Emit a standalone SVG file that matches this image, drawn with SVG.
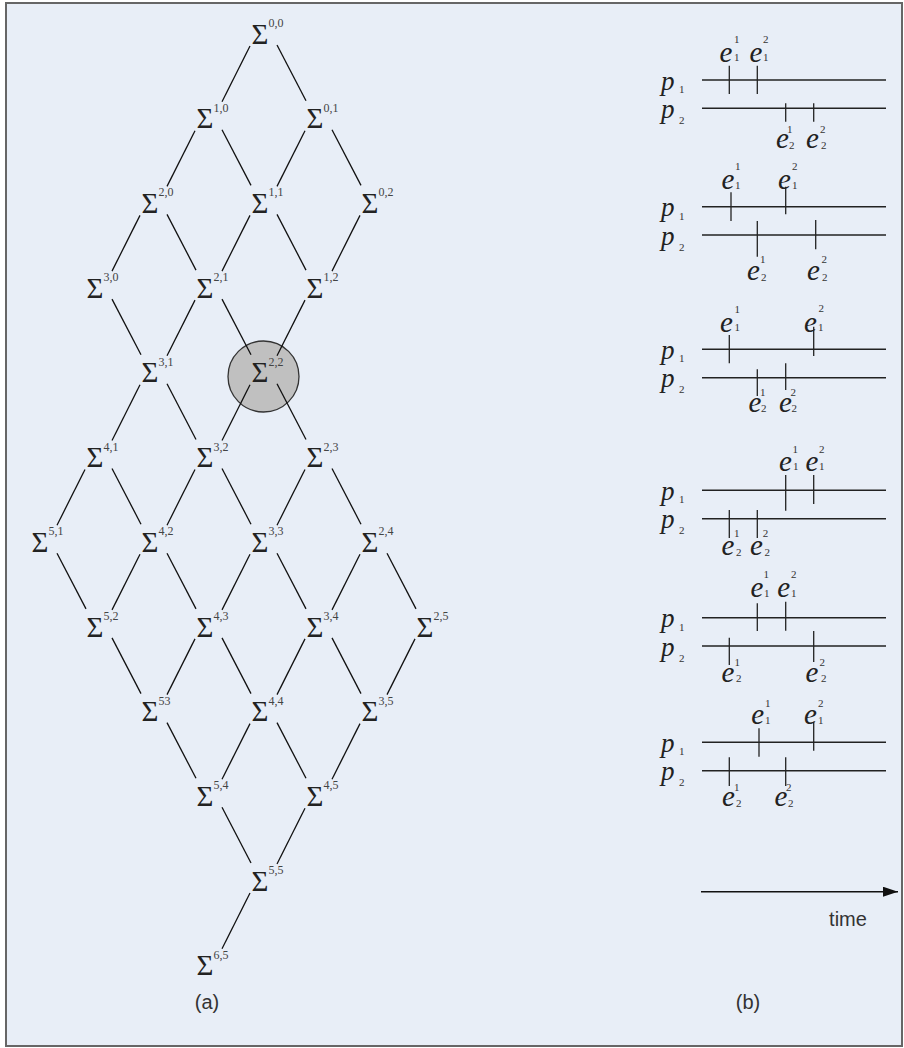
<svg xmlns="http://www.w3.org/2000/svg" width="904" height="1048" viewBox="0 0 904 1048">
<defs>
<style>
.s{font-family:"Liberation Serif","Times New Roman",serif;font-size:29px;fill:#222;text-anchor:middle}
.sp{font-family:"Liberation Serif","Times New Roman",serif;font-size:12px;fill:#444}
.ed line{stroke:#111;stroke-width:1.3}
.tl{stroke:#222;stroke-width:1.5}
.tk{stroke:#222;stroke-width:1.3}
.it{font-family:"Liberation Serif","Times New Roman",serif;font-style:italic;font-size:27px;fill:#222}
.ie{font-family:"Liberation Serif","Times New Roman",serif;font-style:italic;font-size:29px;fill:#222}
.d{font-family:"Liberation Serif","Times New Roman",serif;font-size:11px;fill:#333}
.lab{font-family:"Liberation Sans",Arial,sans-serif;font-size:20px;fill:#333}
</style>
<marker id="ah" markerWidth="16" markerHeight="10" refX="15" refY="5" orient="auto" markerUnits="userSpaceOnUse">
<path d="M0,0 L15,5 L0,10 Z" fill="#111"/>
</marker>
</defs>
<rect x="6" y="3" width="896" height="1043" fill="#E8EEF7" stroke="#666" stroke-width="2"/>

<circle id="hl" cx="263.5" cy="376.5" r="35.5" fill="#C0C0C0" stroke="#333" stroke-width="1.3"/>

<g id="edges" class="ed">
<line x1="250" y1="46" x2="222" y2="101.7"/>
<line x1="195" y1="130.7" x2="167" y2="186.4"/>
<line x1="305" y1="130.7" x2="277" y2="186.4"/>
<line x1="140" y1="215.4" x2="112" y2="271.1"/>
<line x1="250" y1="215.4" x2="222" y2="271.1"/>
<line x1="360" y1="215.4" x2="332" y2="271.1"/>
<line x1="195" y1="300.1" x2="167" y2="355.8"/>
<line x1="305" y1="300.1" x2="277" y2="355.8"/>
<line x1="140" y1="384.8" x2="112" y2="440.5"/>
<line x1="250" y1="384.8" x2="222" y2="440.5"/>
<line x1="85" y1="469.5" x2="57" y2="525.2"/>
<line x1="195" y1="469.5" x2="167" y2="525.2"/>
<line x1="305" y1="469.5" x2="277" y2="525.2"/>
<line x1="140" y1="554.2" x2="112" y2="609.9"/>
<line x1="250" y1="554.2" x2="222" y2="609.9"/>
<line x1="360" y1="554.2" x2="332" y2="609.9"/>
<line x1="195" y1="638.9" x2="167" y2="694.6"/>
<line x1="305" y1="638.9" x2="277" y2="694.6"/>
<line x1="415" y1="638.9" x2="387" y2="694.6"/>
<line x1="250" y1="723.6" x2="222" y2="779.3"/>
<line x1="360" y1="723.6" x2="332" y2="779.3"/>
<line x1="305" y1="808.3" x2="277" y2="864"/>
<line x1="250" y1="893" x2="222" y2="948.7"/>
<line x1="277" y1="45" x2="306" y2="100.7"/>
<line x1="222" y1="129.7" x2="251" y2="185.4"/>
<line x1="332" y1="129.7" x2="361" y2="185.4"/>
<line x1="167" y1="214.4" x2="196" y2="270.1"/>
<line x1="277" y1="214.4" x2="306" y2="270.1"/>
<line x1="112" y1="299.1" x2="141" y2="354.8"/>
<line x1="222" y1="299.1" x2="251" y2="354.8"/>
<line x1="167" y1="383.8" x2="196" y2="439.5"/>
<line x1="277" y1="383.8" x2="306" y2="439.5"/>
<line x1="112" y1="468.5" x2="141" y2="524.2"/>
<line x1="222" y1="468.5" x2="251" y2="524.2"/>
<line x1="332" y1="468.5" x2="361" y2="524.2"/>
<line x1="57" y1="553.2" x2="86" y2="608.9"/>
<line x1="167" y1="553.2" x2="196" y2="608.9"/>
<line x1="277" y1="553.2" x2="306" y2="608.9"/>
<line x1="387" y1="553.2" x2="416" y2="608.9"/>
<line x1="112" y1="637.9" x2="141" y2="693.6"/>
<line x1="222" y1="637.9" x2="251" y2="693.6"/>
<line x1="332" y1="637.9" x2="361" y2="693.6"/>
<line x1="167" y1="722.6" x2="196" y2="778.3"/>
<line x1="277" y1="722.6" x2="306" y2="778.3"/>
<line x1="222" y1="807.3" x2="251" y2="863"/>
</g>

<g id="n00"><text class="s" x="260" y="43.6">Σ</text><text class="sp" x="268.5" y="27">0,0</text></g>
<g id="n10"><text class="s" x="205" y="128.3">Σ</text><text class="sp" x="213.5" y="111.7">1,0</text></g>
<g id="n01"><text class="s" x="315" y="128.3">Σ</text><text class="sp" x="323.5" y="111.7">0,1</text></g>
<g id="n20"><text class="s" x="150" y="213">Σ</text><text class="sp" x="158.5" y="196.4">2,0</text></g>
<g id="n11"><text class="s" x="260" y="213">Σ</text><text class="sp" x="268.5" y="196.4">1,1</text></g>
<g id="n02"><text class="s" x="370" y="213">Σ</text><text class="sp" x="378.5" y="196.4">0,2</text></g>
<g id="n30"><text class="s" x="95" y="297.7">Σ</text><text class="sp" x="103.5" y="281.1">3,0</text></g>
<g id="n21"><text class="s" x="205" y="297.7">Σ</text><text class="sp" x="213.5" y="281.1">2,1</text></g>
<g id="n12"><text class="s" x="315" y="297.7">Σ</text><text class="sp" x="323.5" y="281.1">1,2</text></g>
<g id="n31"><text class="s" x="150" y="382.4">Σ</text><text class="sp" x="158.5" y="365.8">3,1</text></g>
<g id="n22"><text class="s" x="260" y="382.4">Σ</text><text class="sp" x="268.5" y="365.8">2,2</text></g>
<g id="n41"><text class="s" x="95" y="467.1">Σ</text><text class="sp" x="103.5" y="450.5">4,1</text></g>
<g id="n32"><text class="s" x="205" y="467.1">Σ</text><text class="sp" x="213.5" y="450.5">3,2</text></g>
<g id="n23"><text class="s" x="315" y="467.1">Σ</text><text class="sp" x="323.5" y="450.5">2,3</text></g>
<g id="n51"><text class="s" x="40" y="551.8">Σ</text><text class="sp" x="48.5" y="535.2">5,1</text></g>
<g id="n42"><text class="s" x="150" y="551.8">Σ</text><text class="sp" x="158.5" y="535.2">4,2</text></g>
<g id="n33"><text class="s" x="260" y="551.8">Σ</text><text class="sp" x="268.5" y="535.2">3,3</text></g>
<g id="n24"><text class="s" x="370" y="551.8">Σ</text><text class="sp" x="378.5" y="535.2">2,4</text></g>
<g id="n52"><text class="s" x="95" y="636.5">Σ</text><text class="sp" x="103.5" y="619.9">5,2</text></g>
<g id="n43"><text class="s" x="205" y="636.5">Σ</text><text class="sp" x="213.5" y="619.9">4,3</text></g>
<g id="n34"><text class="s" x="315" y="636.5">Σ</text><text class="sp" x="323.5" y="619.9">3,4</text></g>
<g id="n25"><text class="s" x="425" y="636.5">Σ</text><text class="sp" x="433.5" y="619.9">2,5</text></g>
<g id="n53"><text class="s" x="150" y="721.2">Σ</text><text class="sp" x="158.5" y="704.6">53</text></g>
<g id="n44"><text class="s" x="260" y="721.2">Σ</text><text class="sp" x="268.5" y="704.6">4,4</text></g>
<g id="n35"><text class="s" x="370" y="721.2">Σ</text><text class="sp" x="378.5" y="704.6">3,5</text></g>
<g id="n54"><text class="s" x="205" y="805.9">Σ</text><text class="sp" x="213.5" y="789.3">5,4</text></g>
<g id="n45"><text class="s" x="315" y="805.9">Σ</text><text class="sp" x="323.5" y="789.3">4,5</text></g>
<g id="n55"><text class="s" x="260" y="890.6">Σ</text><text class="sp" x="268.5" y="874">5,5</text></g>
<g id="n65"><text class="s" x="205" y="975.3">Σ</text><text class="sp" x="213.5" y="958.7">6,5</text></g>

<text class="lab" x="207" y="1009" text-anchor="middle">(a)</text>

<g id="t1">
<line class="tl" x1="702" y1="80" x2="886" y2="80"/>
<line class="tl" x1="702" y1="108.3" x2="886" y2="108.3"/>
<line class="tk" x1="729.3" y1="65.7" x2="729.3" y2="94"/>
<line class="tk" x1="757.3" y1="65.7" x2="757.3" y2="94"/>
<line class="tk" x1="785.7" y1="103.3" x2="785.7" y2="121.7"/>
<line class="tk" x1="813.7" y1="103.3" x2="813.7" y2="121.7"/>
<text class="it" x="661" y="89.5">p</text><text class="d" x="679" y="93">1</text>
<text class="it" x="661" y="117.8">p</text><text class="d" x="679" y="124">2</text>
<text class="ie" x="719.5" y="61.5">e</text><text class="d" x="734" y="43">1</text><text class="d" x="734" y="61">1</text>
<text class="ie" x="749.5" y="61.5">e</text><text class="d" x="763" y="43">2</text><text class="d" x="763" y="61">1</text>
<text class="ie" x="776" y="148">e</text><text class="d" x="787" y="133">1</text><text class="d" x="789" y="148.5">2</text>
<text class="ie" x="806" y="148">e</text><text class="d" x="820" y="133">2</text><text class="d" x="821" y="148.5">2</text>
</g>

<g id="t2">
<line class="tl" x1="702" y1="206.7" x2="886" y2="206.7"/>
<line class="tl" x1="702" y1="235" x2="886" y2="235"/>
<line class="tk" x1="731" y1="192.3" x2="731" y2="221"/>
<line class="tk" x1="785.7" y1="186.7" x2="785.7" y2="214.3"/>
<line class="tk" x1="757.3" y1="221" x2="757.3" y2="256.7"/>
<line class="tk" x1="815.7" y1="220" x2="815.7" y2="249.3"/>
<text class="it" x="661" y="216.2">p</text><text class="d" x="679" y="219.7">1</text>
<text class="it" x="661" y="244.5">p</text><text class="d" x="679" y="250.7">2</text>
<text class="ie" x="721.5" y="189.3">e</text><text class="d" x="735" y="170">1</text><text class="d" x="735" y="189">1</text>
<text class="ie" x="778" y="189.3">e</text><text class="d" x="792" y="170">2</text><text class="d" x="792" y="189">1</text>
<text class="ie" x="747" y="280">e</text><text class="d" x="760" y="263">1</text><text class="d" x="761" y="280.5">2</text>
<text class="ie" x="807" y="280">e</text><text class="d" x="821.5" y="263">2</text><text class="d" x="822" y="280.5">2</text>
</g>

<g id="t3">
<line class="tl" x1="702" y1="349.3" x2="886" y2="349.3"/>
<line class="tl" x1="702" y1="377.7" x2="886" y2="377.7"/>
<line class="tk" x1="729.3" y1="335" x2="729.3" y2="363.3"/>
<line class="tk" x1="813.7" y1="326.7" x2="813.7" y2="356"/>
<line class="tk" x1="757.3" y1="369.3" x2="757.3" y2="396"/>
<line class="tk" x1="785.7" y1="363.3" x2="785.7" y2="390"/>
<text class="it" x="661" y="358.8">p</text><text class="d" x="679" y="362.3">1</text>
<text class="it" x="661" y="387.2">p</text><text class="d" x="679" y="393.4">2</text>
<text class="ie" x="720" y="331.7">e</text><text class="d" x="734.5" y="312.7">1</text><text class="d" x="734.5" y="331">1</text>
<text class="ie" x="804" y="331.7">e</text><text class="d" x="818.5" y="311.5">2</text><text class="d" x="818" y="331">1</text>
<text class="ie" x="748.5" y="411.5">e</text><text class="d" x="760" y="396">1</text><text class="d" x="761" y="412">2</text>
<text class="ie" x="779" y="411.5">e</text><text class="d" x="790.5" y="396">2</text><text class="d" x="791.5" y="412">2</text>
</g>

<g id="t4">
<line class="tl" x1="702" y1="490.3" x2="886" y2="490.3"/>
<line class="tl" x1="702" y1="518.7" x2="886" y2="518.7"/>
<line class="tk" x1="785.7" y1="475" x2="785.7" y2="510.7"/>
<line class="tk" x1="813.7" y1="475" x2="813.7" y2="504"/>
<line class="tk" x1="729.3" y1="510" x2="729.3" y2="538"/>
<line class="tk" x1="757.3" y1="510" x2="757.3" y2="538"/>
<text class="it" x="661" y="499.8">p</text><text class="d" x="679" y="503.3">1</text>
<text class="it" x="661" y="528.2">p</text><text class="d" x="679" y="534.4">2</text>
<text class="ie" x="779" y="470.5">e</text><text class="d" x="792.5" y="453.3">1</text><text class="d" x="793" y="470">1</text>
<text class="ie" x="805.5" y="470.5">e</text><text class="d" x="819" y="453.3">2</text><text class="d" x="819" y="470">1</text>
<text class="ie" x="721.5" y="555">e</text><text class="d" x="734" y="536.7">1</text><text class="d" x="736" y="555.5">2</text>
<text class="ie" x="750" y="555">e</text><text class="d" x="762.7" y="536.7">2</text><text class="d" x="764.5" y="555.5">2</text>
</g>

<g id="t5">
<line class="tl" x1="702" y1="617.7" x2="886" y2="617.7"/>
<line class="tl" x1="702" y1="646" x2="886" y2="646"/>
<line class="tk" x1="757.3" y1="603.3" x2="757.3" y2="631"/>
<line class="tk" x1="785.7" y1="601.7" x2="785.7" y2="630.7"/>
<line class="tk" x1="729.3" y1="637.7" x2="729.3" y2="665"/>
<line class="tk" x1="813.7" y1="631" x2="813.7" y2="662"/>
<text class="it" x="661" y="627.2">p</text><text class="d" x="679" y="630.7">1</text>
<text class="it" x="661" y="655.5">p</text><text class="d" x="679" y="661.7">2</text>
<text class="ie" x="750.5" y="597">e</text><text class="d" x="763.5" y="578.3">1</text><text class="d" x="764" y="597">1</text>
<text class="ie" x="777.3" y="597">e</text><text class="d" x="791" y="578.3">2</text><text class="d" x="791" y="597">1</text>
<text class="ie" x="721.5" y="681.5">e</text><text class="d" x="734.5" y="666">1</text><text class="d" x="736" y="682">2</text>
<text class="ie" x="805.5" y="681.5">e</text><text class="d" x="819.5" y="666">2</text><text class="d" x="821" y="682">2</text>
</g>

<g id="t6">
<line class="tl" x1="702" y1="742.3" x2="886" y2="742.3"/>
<line class="tl" x1="702" y1="770.7" x2="886" y2="770.7"/>
<line class="tk" x1="759" y1="728.3" x2="759" y2="756.7"/>
<line class="tk" x1="813.7" y1="721.7" x2="813.7" y2="750.7"/>
<line class="tk" x1="729.3" y1="757.3" x2="729.3" y2="786"/>
<line class="tk" x1="785.7" y1="757.3" x2="785.7" y2="786"/>
<text class="it" x="661" y="751.8">p</text><text class="d" x="679" y="755.3">1</text>
<text class="it" x="661" y="780.2">p</text><text class="d" x="679" y="786.4">2</text>
<text class="ie" x="751.3" y="724">e</text><text class="d" x="765" y="707">1</text><text class="d" x="765" y="724">1</text>
<text class="ie" x="804" y="724">e</text><text class="d" x="818" y="707">2</text><text class="d" x="818" y="724">1</text>
<text class="ie" x="722" y="806">e</text><text class="d" x="734" y="790.7">1</text><text class="d" x="736" y="806.5">2</text>
<text class="ie" x="774.5" y="806">e</text><text class="d" x="786" y="790.7">2</text><text class="d" x="788" y="806.5">2</text>
</g>

<g id="timeaxis">
<line x1="701" y1="891.7" x2="898" y2="891.7" stroke="#111" stroke-width="1.5" marker-end="url(#ah)"/>
<text class="lab" x="848" y="926" text-anchor="middle">time</text>
</g>

<text class="lab" x="748" y="1009" text-anchor="middle">(b)</text>
</svg>
